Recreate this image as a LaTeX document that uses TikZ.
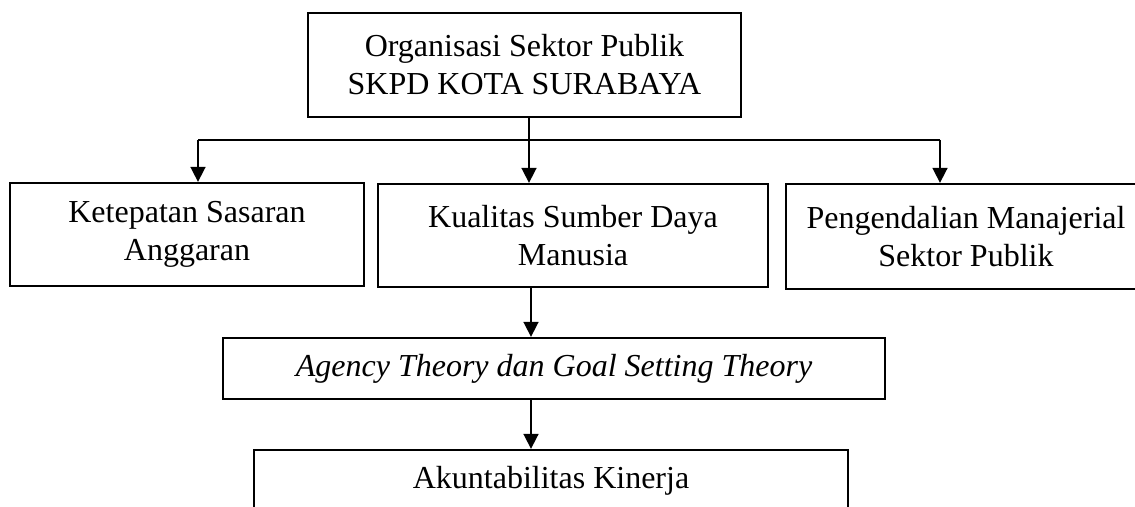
\documentclass[tikz,border=0pt]{standalone}
\usepackage{fontspec}
\setmainfont{Liberation Serif}
\usepackage{tikz}
\usetikzlibrary{arrows.meta}

\begin{document}
\begin{tikzpicture}[x=0.5pt,y=-0.5pt,->,>={Triangle[length=7.5pt,width=7.5pt]},
  line width=0.85pt,
  main node/.style={rectangle,draw,line width=1.15pt,inner sep=0pt,align=center,
    font=\fontsize{16}{19}\selectfont}]

  \clip (0,0) rectangle (1135,507);

  \node[main node,minimum width=216.5pt,minimum height=52pt] (1) at (524.5,65)
    {Organisasi Sektor Publik\\SKPD KOTA SURABAYA};
  \node[main node,minimum width=177pt,minimum height=51.5pt] (2) at (187,234.5)
    {Ketepatan Sasaran\\Anggaran};
  \node[main node,minimum width=195pt,minimum height=51.5pt] (3) at (573,235.5)
    {Kualitas Sumber Daya\\Manusia};
  \node[main node,minimum width=180pt,minimum height=52.5pt] (4) at (966,236.5)
    {Pengendalian Manajerial\\Sektor Publik};
  \node[main node,minimum width=331pt,minimum height=30.5pt] (5) at (554,368.5)
    {\itshape Agency Theory dan Goal Setting Theory};
  \node[main node,minimum width=297pt,minimum height=30.5pt] (6) at (551,480.5)
    {Akuntabilitas Kinerja};

  \coordinate (split) at (529,140);
  \coordinate (left end) at (198,140);
  \coordinate (right end) at (940,140);

  \draw[-] (1.south -| split) -- (split) (left end) -- (right end);

  \path (left end) edge (left end |- 2.north)
        (split) edge (split |- 3.north)
        (right end) edge (right end |- 4.north)
        ([xshift=-21pt]3.south) edge ([xshift=-21pt]3.south |- 5.north)
        ([xshift=-11.5pt]5.south) edge ([xshift=-11.5pt]5.south |- 6.north);

\end{tikzpicture}
\end{document}
